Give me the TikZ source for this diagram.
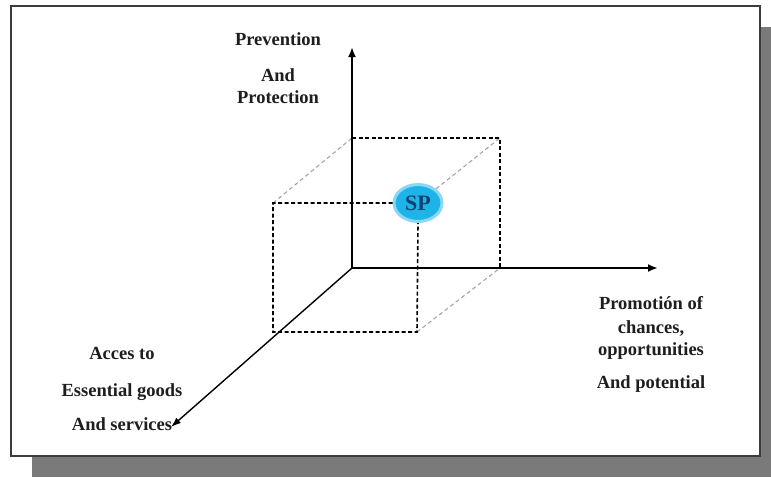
\documentclass[tikz,border=0pt]{standalone}
\usepackage{fontspec}
\setmainfont{Liberation Serif}
\usetikzlibrary{arrows.meta,shapes.geometric}
\definecolor{shadowgray}{RGB}{122,122,122}
\definecolor{framegray}{RGB}{60,60,60}
\definecolor{spcyan}{RGB}{30,180,232}
\definecolor{spglow}{RGB}{140,215,245}
\definecolor{sptext}{RGB}{20,65,115}
\definecolor{txt}{RGB}{30,30,30}
\definecolor{lightdash}{RGB}{165,165,165}
\tikzset{
  axis/.style={line width=2pt, -{Latex[length=10pt,width=8pt]}},
  diagaxis/.style={line width=1.4pt, -{Latex[length=10pt,width=7pt]}},
  frontdash/.style={line width=1.6pt, dash pattern=on 4pt off 2.5pt},
  backdash/.style={line width=1.1pt, lightdash, dash pattern=on 4pt off 3pt},
  lbl/.style={font=\fontsize{18.5}{22}\selectfont\bfseries, text=txt, align=center, inner sep=0pt},
}
\begin{document}
\begin{tikzpicture}[x=1pt,y=-1pt]
\useasboundingbox (0,0) rectangle (771,477);
% shadow and frame
\fill[shadowgray] (32,27) rectangle (771,477);
\draw[framegray, fill=white, line width=1.8pt] (11,6) rectangle (760,456);

% coordinates
\coordinate (O) at (352,268);
\coordinate (Ytip) at (352,47);
\coordinate (Xtip) at (658,268);
\coordinate (Ztip) at (171,427);
\coordinate (FTL) at (273,203);
\coordinate (FBL) at (273,332);
\coordinate (FBR) at (417,332);
\coordinate (BTL) at (352,138);
\coordinate (BTR) at (500,138);
\coordinate (BBR) at (500,268);

% back dashed (gray) connectors
\draw[backdash] (FTL) -- (BTL);
\draw[backdash] (FBR) -- (BBR);

% SP node
\node[ellipse, minimum width=48pt, minimum height=37pt, inner sep=0pt,
      fill=spcyan, draw=spglow, line width=3pt] (SP) at (418,203)
      {\fontsize{22}{22}\selectfont\bfseries\color{sptext}SP};
\draw[backdash] (SP.north east) -- (BTR);

% back square (black dashed)
\draw[frontdash] (BTL) -- (BTR) -- (BBR);
% front square
\draw[frontdash] (SP.west) -- (FTL) -- (FBL) -- (FBR) -- (SP.south);

% axes
\draw[axis] (O) -- (Ytip);
\draw[axis] (O) -- (Xtip);
\draw[diagaxis] (O) -- (Ztip);

% labels
\node[lbl] (prev) at (278,68) {Prevention\\[14pt]And\\Protection};
\node[lbl] (prom) at (651,344) {Promotión of\\[2pt]chances,\\opportunities\\[11pt]And potential};
\node[lbl] (acc) at (122,389) {Acces to\\[15pt]Essential goods\\[12pt]And services};
\end{tikzpicture}
\end{document}
